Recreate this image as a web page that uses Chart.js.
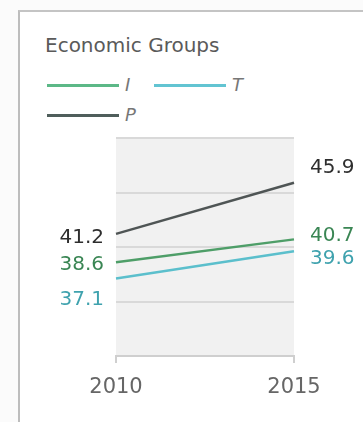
<!DOCTYPE html>
<html>
<head>
<meta charset="utf-8">
<script src="https://cdn.jsdelivr.net/npm/chart.js@4/dist/chart.umd.min.js"></script>
<style>
  html, body { margin:0; padding:0; background:#fbfbfb; width:363px; height:422px; overflow:hidden; }
  #frame { position:absolute; left:18px; top:10px; width:420px; height:460px; border-left:2px solid #bdbdbd; border-top:2px solid #c4c4c4; background:#fff; }
  #title { position:absolute; left:45px; top:34px; font-family:"DejaVu Sans", sans-serif; font-size:20px; line-height:22px; color:#5a5a5a; white-space:nowrap; }
  .leg { position:absolute; height:3px; }
  .legtxt { position:absolute; font-family:"DejaVu Sans", sans-serif; font-style:italic; font-size:18px; line-height:20px; color:#777; }
  canvas { position:absolute; left:0; top:0; }
</style>
</head>
<body>
<div id="frame"></div>
<div id="title">Economic Groups</div>
<div id="legend"></div>
<canvas id="c" width="363" height="422"></canvas>
<script>
// ---- data ----
const years = ['2010', '2015'];
const seriesNames = ['I', 'T', 'P'];
const seriesI = [38.6, 40.7];
const seriesT = [37.1, 39.6];
const seriesP = [41.2, 45.9];
const yTicks = [30, 35, 40, 45, 50];

// ---- styles ----
const lineColors = { I: '#4e9e68', T: '#5bbfcc', P: '#4f5555' };
const legendColors = { I: '#5cb887', T: '#62c4d2', P: '#4f5e5b' };
const labelColors = { I: '#3a8654', T: '#3fa2ae', P: '#2e2e2e' };
// label nudges (px) to avoid overlaps: [left, right]
const labelNudge = { I: [3, -4], T: [21, 7], P: [4, -15] };

// legend (HTML)
const legendLayout = { I: [47, 85], T: [154, 85], P: [47, 115] };
const legEl = document.getElementById('legend');
seriesNames.forEach(n => {
  const [x, y] = legendLayout[n];
  const ln = document.createElement('div');
  ln.className = 'leg';
  ln.style.left = x + 'px'; ln.style.top = (y - 1) + 'px'; ln.style.width = '72px';
  ln.style.background = legendColors[n];
  legEl.appendChild(ln);
  const t = document.createElement('div');
  t.className = 'legtxt';
  t.textContent = n;
  t.style.left = (x + 78) + 'px'; t.style.top = (y - 10) + 'px';
  legEl.appendChild(t);
});

const values = { I: seriesI, T: seriesT, P: seriesP };
const order = ['P', 'I', 'T'];

const bgPlugin = {
  id: 'plotbg',
  beforeDraw(chart) {
    const { ctx, chartArea: a } = chart;
    ctx.save();
    ctx.fillStyle = '#f1f1f1';
    ctx.fillRect(a.left, a.top, a.right - a.left, a.bottom - a.top);
    ctx.restore();
  }
};

const labelPlugin = {
  id: 'endlabels',
  afterDatasetsDraw(chart) {
    const { ctx, chartArea: a } = chart;
    ctx.save();
    ctx.font = '20px "DejaVu Sans", sans-serif';
    ctx.textBaseline = 'middle';
    chart.data.datasets.forEach((ds, i) => {
      const meta = chart.getDatasetMeta(i);
      const n = ds.key;
      const first = meta.data[0], last = meta.data[meta.data.length - 1];
      ctx.fillStyle = labelColors[n];
      ctx.textAlign = 'right';
      ctx.fillText(ds.data[0].toFixed(1), a.left - 12, first.y + labelNudge[n][0]);
      ctx.textAlign = 'left';
      ctx.fillText(ds.data[ds.data.length - 1].toFixed(1), a.right + 16, last.y + labelNudge[n][1]);
    });
    ctx.restore();
  }
};

new Chart(document.getElementById('c'), {
  type: 'line',
  data: {
    labels: years,
    datasets: order.map(n => ({
      key: n,
      label: n,
      data: values[n],
      borderColor: lineColors[n],
      borderWidth: 2.5,
      pointRadius: 0,
      tension: 0,
      fill: false
    }))
  },
  options: {
    responsive: false,
    devicePixelRatio: 1,
    animation: false,
    layout: { padding: { left: 116, right: 69, top: 138, bottom: 22 } },
    plugins: { legend: { display: false }, tooltip: { enabled: false } },
    scales: {
      x: {
        type: 'category',
        offset: false,
        grid: { drawOnChartArea: false, drawTicks: true, tickLength: 7, color: '#cfcfcf', lineWidth: 2 },
        border: { display: true, color: '#cfcfcf', width: 2 },
        ticks: { color: '#666', font: { family: 'DejaVu Sans', size: 21 }, padding: 12, maxRotation: 0 },
        afterFit(s) { s.height = 44; }
      },
      y: {
        min: 30, max: 50,
        afterBuildTicks(s) { s.ticks = yTicks.map(v => ({ value: v })); },
        grid: { drawTicks: false, color: ctx => ctx.tick && ctx.tick.value === 30 ? 'rgba(0,0,0,0)' : '#d9d9d9', lineWidth: 2 },
        border: { display: false },
        ticks: { display: false },
        afterFit(s) { s.width = 0; }
      }
    }
  },
  plugins: [bgPlugin, labelPlugin]
});
</script>
</body>
</html>
